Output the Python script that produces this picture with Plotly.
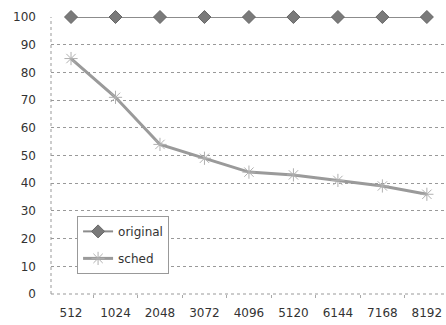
import plotly.graph_objects as go

categories = ["512", "1024", "2048", "3072", "4096", "5120", "6144", "7168", "8192"]
original = [100, 100, 100, 100, 100, 100, 100, 100, 100]
sched = [85, 71, 54, 49, 44, 43, 41, 39, 36]
y_ticks = [0, 10, 20, 30, 40, 50, 60, 70, 80, 90, 100]

fig = go.Figure()
fig.add_trace(go.Scatter(
    x=categories, y=original, name="original", mode="lines+markers", legendgroup="a",
    cliponaxis=False,
    line=dict(color="#8c8c8c", width=2),
    marker=dict(symbol="diamond", size=10, color="#7a7a7a", line=dict(color="#666666", width=1)),
))
fig.add_trace(go.Scatter(
    x=categories, y=sched, name="sched", mode="lines+markers", legendgroup="b",
    cliponaxis=False,
    line=dict(color="#9a9a9a", width=3),
    marker=dict(symbol="asterisk-open", size=11, color="#b0b0b0", line=dict(color="#a8a8a8", width=1)),
))

fig.update_layout(
    width=446, height=325,
    margin=dict(l=51, r=0, t=17, b=31, autoexpand=False),
    paper_bgcolor="white", plot_bgcolor="white",
    font=dict(family="DejaVu Sans", size=12, color="#333333"),
    legend=dict(
        x=0.066, y=0.282, xanchor="left", yanchor="top",
        bordercolor="#999999", borderwidth=1, bgcolor="white",
        font=dict(size=12, color="#333333"),
        tracegroupgap=8, itemwidth=30,
    ),
    showlegend=True,
)
fig.update_xaxes(
    type="category", range=[-0.45, 8.43], automargin=False,
    showgrid=False, showline=False, zeroline=False,
    tickson="boundaries", ticks="outside", ticklen=3, tickcolor="#aaaaaa",
    ticklabelstandoff=10,
    tickfont=dict(size=12, color="#333333"),
)
fig.update_yaxes(
    range=[0, 100], tickvals=y_ticks, automargin=False,
    showgrid=True, gridcolor="#999999", griddash="dot", gridwidth=1,
    showline=False, zeroline=False, ticks="", ticklabelstandoff=14,
    tickfont=dict(size=12, color="#333333"),
)
fig.add_shape(type="line", xref="paper", yref="paper", x0=0, x1=0, y0=0, y1=1,
              line=dict(color="#999999", width=1, dash="dot"), layer="below")
fig.add_shape(type="line", xref="paper", yref="paper", x0=0, x1=1, y0=0, y1=0,
              line=dict(color="#999999", width=1, dash="dot"), layer="below")

fig.write_html(
    "out.html",
    config={"displayModeBar": False},
    post_script="document.body.style.margin='0';document.body.style.overflow='hidden';",
)
